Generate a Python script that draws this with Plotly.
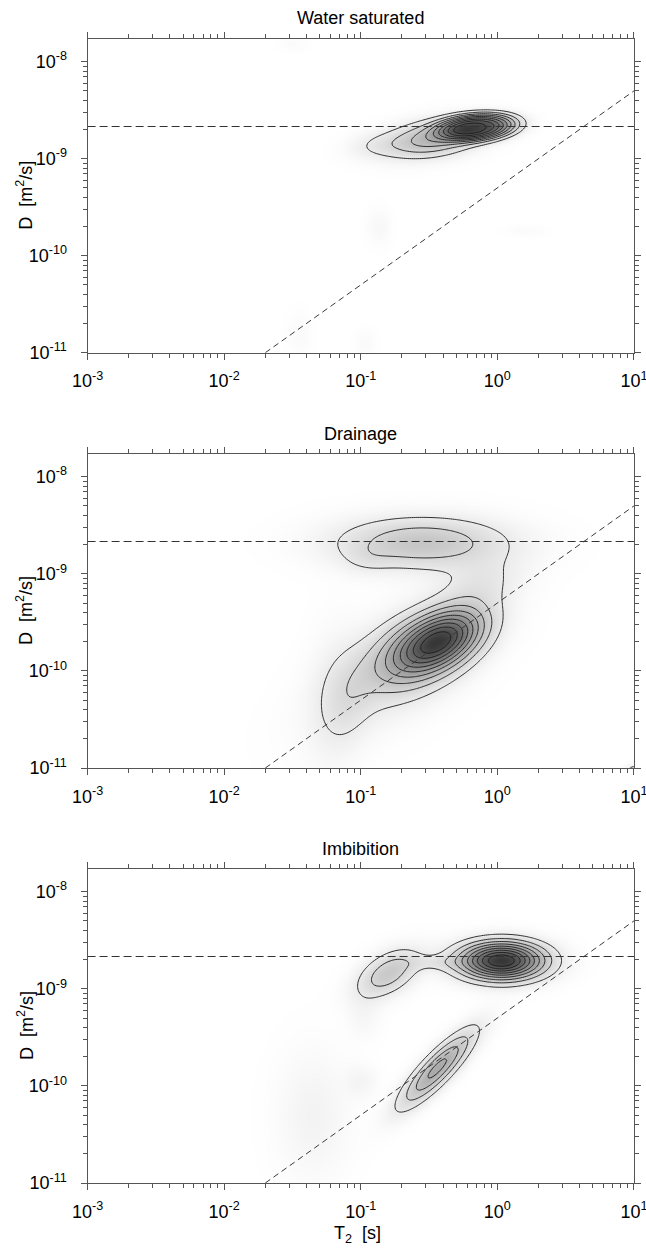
import numpy as np
import plotly.graph_objects as go

# ---------------- data ----------------
panel_titles = ["Water saturated", "Drainage", "Imbibition"]

x_tick_vals = [1e-3, 1e-2, 1e-1, 1e0, 1e1]
x_tick_text = ["10<sup>-3</sup>", "10<sup>-2</sup>", "10<sup>-1</sup>", "10<sup>0</sup>", "10<sup>1</sup>"]
y_tick_vals = [1e-11, 1e-10, 1e-9, 1e-8]
y_tick_text = ["10<sup>-11</sup>", "10<sup>-10</sup>", "10<sup>-9</sup>", "10<sup>-8</sup>"]

# reference lines
water_D = 2.15e-9                    # horizontal dashed line (bulk water diffusivity)
diag_T2 = [0.02, 10.0]               # diagonal dashed line (restricted-diffusion limit)
diag_D = [1e-11, 5e-9]

# peak components of each T2-D map, in log10 units:
# centre log10(T2), centre log10(D), sigma along major axis, sigma along minor axis,
# orientation of the major axis (deg, in log-log space), relative amplitude,
# peak flatness (1 = gaussian, >1 = flatter top / steeper flanks)
ws_logT = [-0.15, -0.47, -0.90, -0.87, -1.45, -0.97, 0.20, -1.50]
ws_logD = [-8.675, -8.79, -8.86, -9.70, -10.80, -10.90, -9.74, -7.82]
ws_smaj = [0.215, 0.24, 0.14, 0.13, 0.15, 0.10, 0.10, 0.07]
ws_smin = [0.10, 0.12, 0.09, 0.06, 0.06, 0.05, 0.04, 0.05]
ws_ang = [8, 14, 10, 90, 90, 90, 0, 0]
ws_amp = [0.80, 0.35, 0.06, 0.035, 0.025, 0.025, 0.02, 0.02]
ws_pow = [1.4, 1.0, 1.0, 1.0, 1.0, 1.0, 1.0, 1.0]

dr_logT = [-0.40, -0.62, -0.72, -1.08, -1.20, -0.55, -0.95, -0.12, 1.00]
dr_logD = [-9.67, -9.83, -9.95, -10.30, -10.30, -8.68, -8.85, -9.10, -11.02]
dr_smaj = [0.25, 0.29, 0.55, 0.30, 0.55, 0.42, 0.12, 0.22, 0.04]
dr_smin = [0.155, 0.20, 0.26, 0.12, 0.13, 0.18, 0.10, 0.16, 0.04]
dr_ang = [47, 50, 50, 85, 88, 0, 0, 30, 0]
dr_amp = [0.75, 0.30, 0.12, 0.07, 0.05, 0.30, 0.05, 0.10, 0.15]
dr_pow = [1.0] * 9

im_logT = [0.03, -0.80, -0.45, -0.44, -1.35, -1.00, -0.98]
im_logD = [-8.71, -8.84, -8.73, -9.82, -10.30, -9.95, -9.30]
im_smaj = [0.205, 0.20, 0.15, 0.31, 0.45, 0.12, 0.15]
im_smin = [0.127, 0.115, 0.055, 0.078, 0.18, 0.08, 0.08]
im_ang = [0, 50, 0, 57, 90, 90, 90]
im_amp = [1.0, 0.27, 0.07, 0.43, 0.06, 0.05, 0.04]
im_pow = [1.0] * 7

panels = [
    (ws_logT, ws_logD, ws_smaj, ws_smin, ws_ang, ws_amp, ws_pow),
    (dr_logT, dr_logD, dr_smaj, dr_smin, dr_ang, dr_amp, dr_pow),
    (im_logT, im_logD, im_smaj, im_smin, im_ang, im_amp, im_pow),
]

# ---------------- grid ----------------
u = np.linspace(-3, 1, 281)
v = np.linspace(-11, -7.766, 231)
U, V = np.meshgrid(u, v)
T2 = 10 ** u
D = 10 ** v


def build_map(lt, ld, sa, sb, ang, amp, pw):
    z = np.zeros_like(U)
    for u0, v0, s1, s2, a, A, k in zip(lt, ld, sa, sb, ang, amp, pw):
        th = np.deg2rad(a)
        du, dv = U - u0, V - v0
        p = du * np.cos(th) + dv * np.sin(th)
        q = -du * np.sin(th) + dv * np.cos(th)
        z += A * np.exp(-0.5 * ((p / s1) ** 2 + (q / s2) ** 2) ** k)
    return z / z.max()


FONT = "Liberation Sans, Arial, sans-serif"
AX = "#555555"
FS = 18

W, H = 646, 1248
x_dom = [87.6 / W, 634.0 / W]
y_pix = [(39.0, 352.7), (454.0, 768.0), (869.0, 1183.0)]

fig = go.Figure()

minor_x = [m * 10.0 ** e for e in range(-3, 1) for m in range(2, 10)]
minor_y = [m * 10.0 ** e for e in range(-11, -7) for m in range(2, 10)]

for i, comp in enumerate(panels):
    k = "" if i == 0 else str(i + 1)
    z = build_map(*comp)
    fig.add_trace(go.Contour(
        x=T2, y=D, z=z, xaxis="x" + k, yaxis="y" + k,
        zmin=0, zmax=1,
        colorscale=[[0, "#ffffff"], [1, "#363636"]],
        showscale=False,
        contours=dict(start=0.1, end=0.9, size=0.1, coloring="heatmap", showlines=True),
        line=dict(color="#1a1a1a", width=0.9),
        hoverinfo="skip",
    ))
    fig.add_trace(go.Scatter(
        x=[1e-3, 10.0], y=[water_D, water_D], mode="lines",
        line=dict(color="#333333", width=1.1, dash="8px,4px"),
        xaxis="x" + k, yaxis="y" + k, showlegend=False, hoverinfo="skip",
    ))
    fig.add_trace(go.Scatter(
        x=diag_T2, y=diag_D, mode="lines",
        line=dict(color="#3a3a3a", width=1.0, dash="6px,4px"),
        xaxis="x" + k, yaxis="y" + k, showlegend=False, hoverinfo="skip",
    ))
    y0, y1 = y_pix[i]
    common = dict(
        type="log", showgrid=False, zeroline=False, showline=True,
        linecolor=AX, linewidth=1.2, mirror="ticks", automargin=False,
        ticks="outside", ticklen=6, tickwidth=1, tickcolor=AX,
        tickfont=dict(family=FONT, size=FS, color="#000000"),
        ticklabeloverflow="allow",
    )
    fig.update_layout(**{
        "xaxis" + k: dict(
            common, domain=x_dom, anchor="y" + k, range=[-3, 1.0005],
            tickmode="array", tickvals=x_tick_vals, ticktext=x_tick_text,
            ticklabelstandoff=6,
            minor=dict(tickmode="array", tickvals=minor_x, ticks="outside",
                       ticklen=4, tickwidth=1, tickcolor=AX, showgrid=False),
        ),
        "yaxis" + k: dict(
            common, domain=[1 - y1 / H, 1 - y0 / H], anchor="x" + k, range=[-11, -7.766],
            tickmode="array", tickvals=y_tick_vals, ticktext=y_tick_text,
            ticklabelstandoff=10,
            minor=dict(tickmode="array", tickvals=minor_y, ticks="outside",
                       ticklen=4, tickwidth=1, tickcolor=AX, showgrid=False),
        ),
    })

title_y = [18, 434, 849]
ann = []
xc = (x_dom[0] + x_dom[1]) / 2
for i, t in enumerate(panel_titles):
    ann.append(dict(text=t, x=xc, y=1 - title_y[i] / H, xref="paper", yref="paper",
                    xanchor="center", yanchor="middle", showarrow=False,
                    font=dict(family=FONT, size=FS, color="#000000")))
    yc = (y_pix[i][0] + y_pix[i][1]) / 2
    ann.append(dict(text="D  [m<sup>2</sup>/s]", x=25 / W, y=1 - yc / H, xref="paper", yref="paper",
                    xanchor="center", yanchor="middle", textangle=-90, showarrow=False,
                    font=dict(family=FONT, size=FS, color="#000000")))
ann.append(dict(text="T<sub>2</sub>  [s]", x=357 / W, y=1 - 1234 / H, xref="paper", yref="paper",
                xanchor="center", yanchor="middle", showarrow=False,
                font=dict(family=FONT, size=FS, color="#000000")))

fig.update_layout(
    template="none",
    width=W, height=H, margin=dict(l=0, r=0, t=0, b=0, autoexpand=False),
    paper_bgcolor="white", plot_bgcolor="white",
    showlegend=False, annotations=ann,
)

fig.write_html("out.html")
